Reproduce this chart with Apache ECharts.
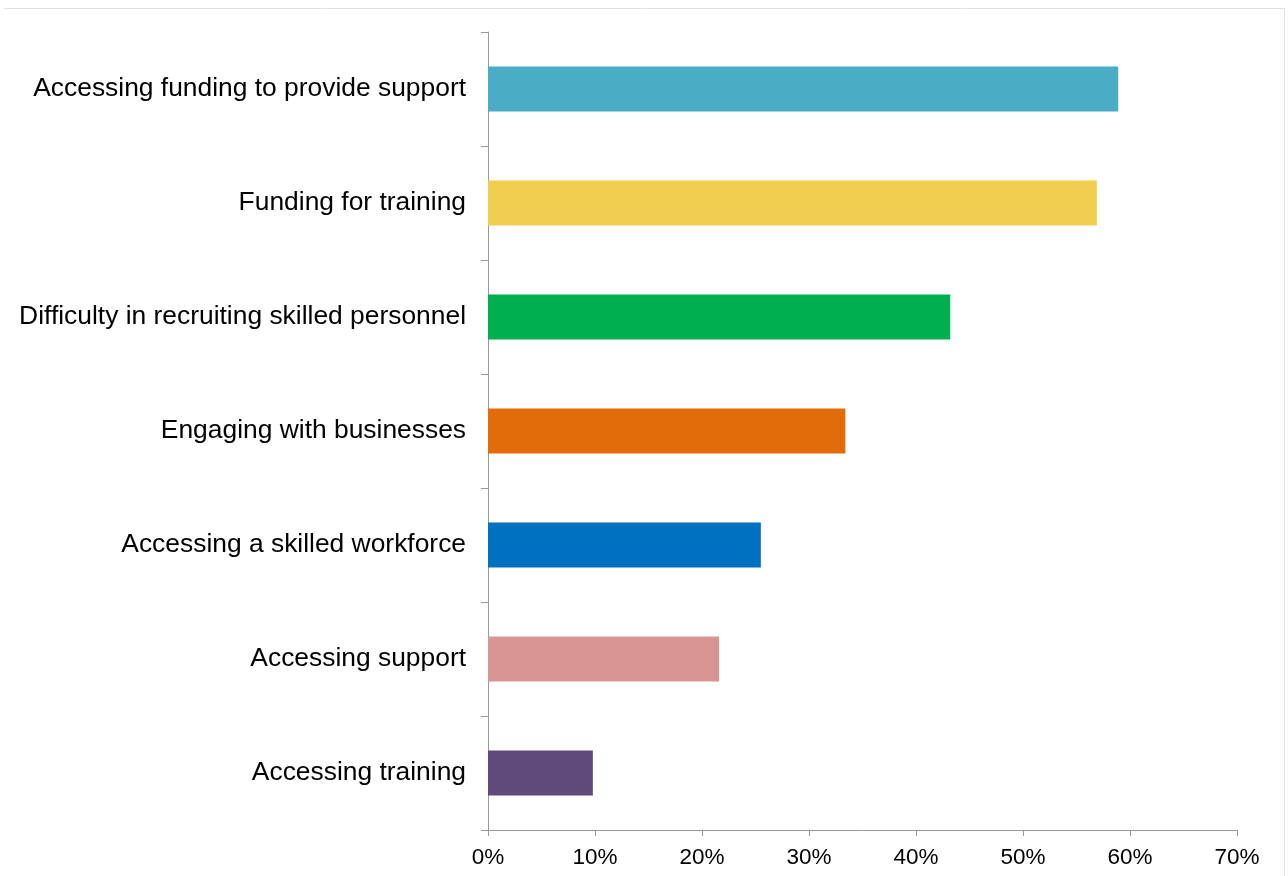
<!DOCTYPE html>
<html>
<head>
<meta charset="utf-8">
<style>
  html, body { margin: 0; padding: 0; background: #ffffff; }
  #chart { width: 1288px; height: 876px; }
</style>
<script src="https://cdn.jsdelivr.net/npm/echarts@6/dist/echarts.min.js"></script>
</head>
<body>
<div id="chart"></div>
<script>
// Barriers, share of respondents (%)
const categories = [
  'Accessing funding to provide support',
  'Funding for training',
  'Difficulty in recruiting skilled personnel',
  'Engaging with businesses',
  'Accessing a skilled workforce',
  'Accessing support',
  'Accessing training'
];
const values = [58.9, 56.9, 43.2, 33.4, 25.5, 21.6, 9.8];
const barColors = ['#4BACC6', '#F0CE50', '#00AF50', '#E36C0A', '#0070C0', '#D99594', '#604A7B'];
const xTicks = { min: 0, max: 70, interval: 10 };

const chart = echarts.init(document.getElementById('chart'), null, { renderer: 'canvas' });
const font = '"Liberation Sans", Arial, sans-serif';
const axisGrey = '#999999';

chart.setOption({
  backgroundColor: '#ffffff',
  animation: false,
  grid: { left: 488, right: 51, top: 32, bottom: 46, containLabel: false },
  xAxis: {
    type: 'value',
    min: xTicks.min,
    max: xTicks.max,
    interval: xTicks.interval,
    axisLine: { show: true, lineStyle: { color: axisGrey, width: 1 } },
    axisTick: { show: true, length: 6, lineStyle: { color: axisGrey } },
    splitLine: { show: false },
    axisLabel: {
      formatter: '{value}%',
      color: '#000000',
      fontFamily: font,
      fontSize: 22.5,
      margin: 16
    }
  },
  yAxis: {
    type: 'category',
    data: categories,
    inverse: true,
    axisLine: { show: true, lineStyle: { color: axisGrey, width: 1 } },
    axisTick: { show: true, length: 7, alignWithLabel: false, lineStyle: { color: axisGrey } },
    axisLabel: {
      color: '#000000',
      fontFamily: font,
      fontSize: 26.4,
      margin: 22,
      padding: [4, 0, 0, 0]
    }
  },
  series: [{
    type: 'bar',
    data: values.map((v, i) => ({ value: v, itemStyle: { color: barColors[i] } })),
    barWidth: 45
  }],
  graphic: [
    { type: 'line', shape: { x1: 4, y1: 8.5, x2: 1285, y2: 8.5 }, style: { stroke: '#e2e2e2', lineWidth: 1 } },
    { type: 'line', shape: { x1: 1284.5, y1: 8, x2: 1284.5, y2: 876 }, style: { stroke: '#e2e2e2', lineWidth: 1 } }
  ]
});
</script>
</body>
</html>
